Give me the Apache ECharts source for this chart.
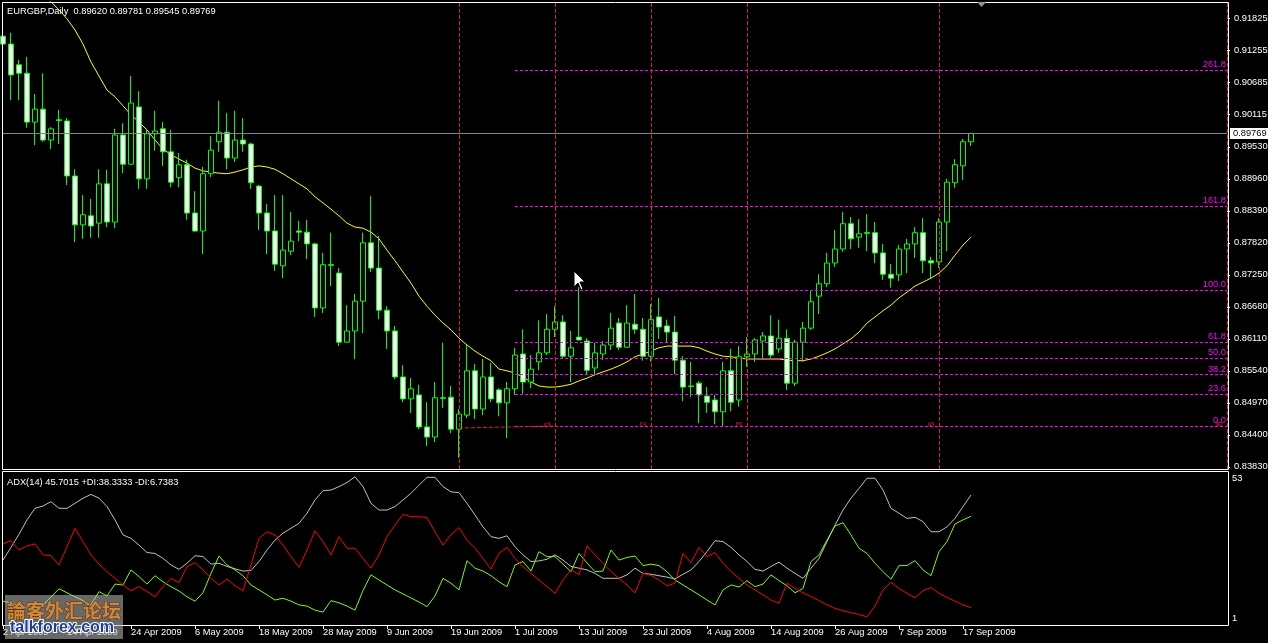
<!DOCTYPE html>
<html><head><meta charset="utf-8">
<script src="https://cdn.jsdelivr.net/npm/echarts@6/dist/echarts.min.js"></script>
<style>html,body{margin:0;padding:0;background:#000;overflow:hidden}#c{width:1268px;height:643px}</style>
</head><body><div id="c"></div>
<script>
const symbolName = 'EURGBP,Daily';
const dates = ['2 Apr 2009','3 Apr 2009','6 Apr 2009','7 Apr 2009','8 Apr 2009','9 Apr 2009','10 Apr 2009','13 Apr 2009','14 Apr 2009','15 Apr 2009','16 Apr 2009','17 Apr 2009','20 Apr 2009','21 Apr 2009','22 Apr 2009','23 Apr 2009','24 Apr 2009','27 Apr 2009','28 Apr 2009','29 Apr 2009','30 Apr 2009',
'1 May 2009','4 May 2009','5 May 2009','6 May 2009','7 May 2009','8 May 2009','11 May 2009','12 May 2009','13 May 2009','14 May 2009','15 May 2009','18 May 2009','19 May 2009','20 May 2009','21 May 2009','22 May 2009','25 May 2009','26 May 2009','27 May 2009','28 May 2009','29 May 2009',
'1 Jun 2009','2 Jun 2009','3 Jun 2009','4 Jun 2009','5 Jun 2009','8 Jun 2009','9 Jun 2009','10 Jun 2009','11 Jun 2009','12 Jun 2009','15 Jun 2009','16 Jun 2009','17 Jun 2009','18 Jun 2009','19 Jun 2009','22 Jun 2009','23 Jun 2009','24 Jun 2009','25 Jun 2009','26 Jun 2009','29 Jun 2009','30 Jun 2009',
'1 Jul 2009','2 Jul 2009','3 Jul 2009','6 Jul 2009','7 Jul 2009','8 Jul 2009','9 Jul 2009','10 Jul 2009','13 Jul 2009','14 Jul 2009','15 Jul 2009','16 Jul 2009','17 Jul 2009','20 Jul 2009','21 Jul 2009','22 Jul 2009','23 Jul 2009','24 Jul 2009','27 Jul 2009','28 Jul 2009','29 Jul 2009','30 Jul 2009','31 Jul 2009',
'3 Aug 2009','4 Aug 2009','5 Aug 2009','6 Aug 2009','7 Aug 2009','10 Aug 2009','11 Aug 2009','12 Aug 2009','13 Aug 2009','14 Aug 2009','17 Aug 2009','18 Aug 2009','19 Aug 2009','20 Aug 2009','21 Aug 2009','24 Aug 2009','25 Aug 2009','26 Aug 2009','27 Aug 2009','28 Aug 2009','31 Aug 2009',
'1 Sep 2009','2 Sep 2009','3 Sep 2009','4 Sep 2009','7 Sep 2009','8 Sep 2009','9 Sep 2009','10 Sep 2009','11 Sep 2009','14 Sep 2009','15 Sep 2009','16 Sep 2009','17 Sep 2009','18 Sep 2009'];
const emptySlots = 32;

const openP = [0.9150,0.9136,0.9099,0.9084,0.8997,0.9020,0.8965,0.9001,0.8999,0.8901,
0.8814,0.8830,0.8817,0.8887,0.8819,0.8974,0.8922,0.9024,0.8896,0.8976,
0.8985,0.8944,0.8898,0.8921,0.8835,0.8803,0.8905,0.8962,0.8979,0.8933,
0.8965,0.8958,0.8883,0.8835,0.8803,0.8741,0.8767,0.8803,0.8801,0.8780,
0.8666,0.8743,0.8728,0.8605,0.8625,0.8678,0.8782,0.8737,0.8662,0.8625,
0.8543,0.8504,0.8511,0.8454,0.8436,0.8506,0.8507,0.8450,0.8475,0.8554,
0.8486,0.8543,0.8520,0.8497,0.8522,0.8584,0.8534,0.8570,0.8586,0.8628,
0.8641,0.8580,0.8614,0.8607,0.8559,0.8584,0.8600,0.8639,0.8596,0.8637,
0.8628,0.8580,0.8650,0.8634,0.8623,0.8573,0.8527,0.8532,0.8509,0.8502,
0.8481,0.8554,0.8502,0.8579,0.8584,0.8607,0.8616,0.8593,0.8612,0.8532,
0.8605,0.8630,0.8687,0.8709,0.8746,0.8771,0.8816,0.8792,0.8800,0.8800,
0.8764,0.8726,0.8725,0.8771,0.8780,0.8800,0.8750,0.8748,0.8819,0.8889,
0.8919,0.89620];
const highP = [0.9170,0.9156,0.9108,0.9113,0.9047,0.9084,0.8988,0.9019,0.9004,0.8913,
0.8867,0.8860,0.8913,0.8912,0.8985,0.8995,0.9079,0.9052,0.8985,0.9017,
0.8997,0.8983,0.8942,0.8930,0.8874,0.8917,0.8972,0.9035,0.9013,0.9017,
0.9004,0.8960,0.8885,0.8851,0.8867,0.8867,0.8837,0.8821,0.8823,0.8782,
0.8764,0.8800,0.8737,0.8671,0.8691,0.8800,0.8865,0.8794,0.8669,0.8634,
0.8564,0.8541,0.8529,0.8498,0.8534,0.8604,0.8527,0.8486,0.8600,0.8566,
0.8575,0.8568,0.8523,0.8534,0.8595,0.8628,0.8582,0.8644,0.8655,0.8669,
0.8653,0.8625,0.8703,0.8612,0.8604,0.8607,0.8657,0.8648,0.8671,0.8691,
0.8648,0.8673,0.8684,0.8645,0.8652,0.8580,0.8570,0.8536,0.8525,0.8511,
0.8570,0.8593,0.8598,0.8614,0.8612,0.8623,0.8653,0.8645,0.8628,0.8609,
0.8641,0.8696,0.8726,0.8764,0.8805,0.8837,0.8828,0.8824,0.8833,0.8819,
0.8780,0.8744,0.8778,0.8789,0.8810,0.8826,0.8757,0.8826,0.8896,0.8931,
0.8967,0.89781];
const lowP = [0.9081,0.9036,0.9036,0.8987,0.8956,0.8962,0.8949,0.8958,0.8885,0.8783,
0.8789,0.8791,0.8791,0.8810,0.8808,0.8906,0.8921,0.8878,0.8878,0.8946,
0.8919,0.8881,0.8881,0.8823,0.8801,0.8762,0.8899,0.8944,0.8913,0.8926,
0.8944,0.8878,0.8805,0.8762,0.8732,0.8719,0.8760,0.8785,0.8753,0.8650,
0.8657,0.8705,0.8598,0.8604,0.8575,0.8621,0.8730,0.8646,0.8593,0.8539,
0.8498,0.8479,0.8450,0.8420,0.8427,0.8488,0.8443,0.8399,0.8470,0.8468,
0.8475,0.8498,0.8473,0.8434,0.8511,0.8513,0.8523,0.8555,0.8582,0.8614,
0.8575,0.8534,0.8608,0.8547,0.8547,0.8573,0.8591,0.8591,0.8595,0.8620,
0.8572,0.8570,0.8611,0.8604,0.8548,0.8500,0.8507,0.8461,0.8479,0.8459,
0.8454,0.8482,0.8490,0.8561,0.8570,0.8573,0.8577,0.8586,0.8520,0.8527,
0.8570,0.8627,0.8655,0.8703,0.8739,0.8766,0.8771,0.8773,0.8767,0.8746,
0.8716,0.8702,0.8714,0.8728,0.8755,0.8728,0.8719,0.8737,0.8767,0.8880,
0.8894,0.89545];
const closeP = [0.9136,0.9081,0.9084,0.8997,0.9020,0.8965,0.8985,0.9000,0.8901,0.8814,
0.8832,0.8812,0.8887,0.8819,0.8974,0.8922,0.9031,0.8896,0.8976,0.8981,
0.8944,0.8890,0.8921,0.8835,0.8803,0.8905,0.8947,0.8979,0.8933,0.8965,
0.8958,0.8889,0.8835,0.8803,0.8744,0.8769,0.8785,0.8801,0.8780,0.8666,
0.8743,0.8742,0.8605,0.8625,0.8678,0.8782,0.8737,0.8662,0.8625,0.8543,
0.8504,0.8522,0.8454,0.8436,0.8506,0.8505,0.8450,0.8477,0.8554,0.8486,
0.8543,0.8504,0.8497,0.8522,0.8582,0.8534,0.8557,0.8586,0.8628,0.8641,
0.8580,0.8595,0.8609,0.8555,0.8586,0.8600,0.8630,0.8596,0.8639,0.8628,
0.8580,0.8645,0.8632,0.8623,0.8573,0.8525,0.8526,0.8511,0.8498,0.8481,
0.8554,0.8498,0.8579,0.8584,0.8609,0.8616,0.8582,0.8612,0.8532,0.8605,
0.8630,0.8677,0.8709,0.8746,0.8771,0.8816,0.8789,0.8798,0.8799,0.8764,
0.8726,0.8719,0.8771,0.8780,0.8800,0.8750,0.8746,0.8819,0.8890,0.8921,
0.8962,0.89769];
const maLine = [null,null,null,null,null,
0.9223,0.9211,0.9197,0.9181,0.9161,
0.9136,0.9104,0.9079,0.9054,0.9042,0.9026,0.9010,0.8997,0.8983,0.8965,
0.8949,0.8939,0.8931,0.8924,0.8915,0.8910,0.8908,0.8906,0.8905,0.8908,
0.8912,0.8917,0.8919,0.8917,0.8913,0.8905,0.8896,0.8887,0.8878,0.8864,
0.8853,0.8842,0.8830,0.8817,0.8810,0.8808,0.8801,0.8789,0.8769,0.8750,
0.8730,0.8710,0.8687,0.8669,0.8653,0.8639,0.8627,0.8612,0.8600,0.8589,
0.8580,0.8572,0.8557,0.8554,0.8550,0.8543,0.8534,0.8527,0.8525,0.8525,
0.8527,0.8530,0.8536,0.8541,0.8547,0.8552,0.8557,0.8563,0.8570,0.8579,
0.8584,0.8589,0.8595,0.8598,0.8598,0.8598,0.8598,0.8595,0.8589,0.8584,
0.8580,0.8579,0.8577,0.8575,0.8575,0.8575,0.8575,0.8575,0.8573,0.8572,
0.8572,0.8575,0.8580,0.8586,0.8593,0.8602,0.8611,0.8623,0.8639,0.8650,
0.8661,0.8671,0.8684,0.8694,0.8705,0.8712,0.8719,0.8728,0.8741,0.8760,
0.8778,0.8792];
const adxMain = [23.2,27.6,32.1,37.1,41.1,41.9,43.4,41.1,41.1,42.8,
44.6,45.9,44.6,41.7,37.1,31.9,30.7,28.4,25.8,25.5,
23.8,21.5,20.0,22.1,24.7,24.4,21.8,22.1,21.0,20.2,
19.4,19.6,22.7,26.7,30.1,32.5,34.2,35.9,39.4,44.0,
47.2,47.4,48.6,50.0,52.0,48.6,42.8,40.5,40.5,41.7,
44.0,46.3,49.1,51.8,51.8,48.6,46.8,46.5,42.8,38.8,
34.7,31.3,30.7,31.6,27.8,25.0,22.7,22.9,23.5,25.0,
23.2,21.0,20.4,19.8,18.6,16.9,16.9,16.9,18.1,20.4,
18.6,18.3,17.8,17.3,16.7,18.3,19.8,22.7,26.1,29.9,
29.6,27.6,25.0,22.7,20.0,19.4,21.0,22.5,20.4,18.6,
16.9,20.4,23.8,29.6,35.3,40.5,44.6,48.0,51.5,51.5,
47.4,41.1,39.4,37.6,38.0,36.5,33.0,33.0,34.7,37.6,
41.7,45.7015];
const plusDI = [9.0,8.4,7.3,6.7,5.2,7.7,10.4,13.3,11.9,10.5,
9.2,7.7,12.3,10.8,14.9,14.6,19.8,17.5,14.9,17.8,
15.7,14.0,12.5,10.5,9.0,11.9,18.6,24.6,21.5,19.8,
17.8,14.6,12.9,11.2,9.4,10.0,9.0,7.7,7.3,5.9,
5.2,9.2,8.4,7.3,5.9,12.7,18.1,16.3,14.6,12.9,
11.5,10.1,8.7,7.1,10.8,16.9,15.2,12.9,23.0,20.4,
19.4,17.8,15.7,14.0,21.5,22.7,19.4,26.1,24.4,24.4,
21.8,19.2,25.5,22.2,19.2,19.4,26.7,23.2,24.1,24.6,
21.3,21.8,21.3,19.2,16.3,14.6,12.9,11.2,9.4,7.7,
12.9,14.6,13.9,16.1,14.0,14.9,18.1,16.1,14.3,11.9,
13.4,22.7,25.0,30.1,35.0,36.1,31.9,27.3,25.5,22.1,
19.2,16.6,21.3,21.3,23.0,19.8,17.8,26.1,29.6,35.7,
37.1,38.3333];
const minusDI = [28.8,29.9,26.7,28.1,28.8,25.0,24.7,21.5,27.8,34.2,
29.6,25.0,21.8,19.2,16.9,14.6,12.6,14.0,12.3,10.5,
14.0,16.9,15.4,20.9,22.3,19.8,16.9,14.6,16.6,14.3,
12.6,21.5,30.7,33.0,31.9,28.4,24.4,20.7,26.7,33.3,
29.6,25.0,31.3,27.3,27.3,23.8,20.4,25.0,31.3,35.3,
39.0,38.2,38.2,37.9,33.0,28.4,31.9,34.4,30.1,27.3,
23.8,20.1,25.5,27.6,23.8,20.9,18.6,16.3,14.0,11.7,
16.3,19.8,18.1,28.1,25.0,22.1,19.2,16.9,14.6,11.9,
18.6,17.9,16.3,14.3,15.2,25.5,22.3,27.6,24.4,25.8,
22.1,19.2,16.9,14.6,12.9,11.2,9.4,8.3,15.2,13.4,
11.9,10.5,9.2,7.7,6.5,5.7,5.0,4.4,3.6,7.3,
12.9,15.5,13.4,11.7,10.2,12.6,13.7,11.7,10.3,9.0,
7.7,6.7383];
const priceTicks = [0.83830,0.84400,0.84970,0.85540,0.86110,0.86680,0.87250,0.87820,0.88390,0.88960,0.89530,0.90115,0.90685,0.91255,0.91825];
const adxTicks = [53, 1];
const fibLabels = ['0.0','23.6','38.2','50.0','61.8','100.0','161.8','261.8'];
const fibPrices = [0.84551,0.85121,0.85470,0.85763,0.86048,0.86974,0.88471,0.90895];
const fibStartIdx = 64;
const fibTimeIdx = [57,69,81,93,117,153];
const fibTimeLabels = ['1','1','2','3','5','8'];
const fibTimeLabelPrice = 0.84592;
const fibBase = [[57,0.84521],[69,0.84557]];
const bidPrice = 0.89769;

const FONT = '"Liberation Sans", Arial, sans-serif';
const FS = 9.3;
const n = dates.length;
const cats = dates.concat(Array.from({length: emptySlots}, (_, i) => '~' + i));
const showIdx = (i) => i % 8 === 0 && i < n;
const lastI = n - 1;

const candles = dates.map((d, i) => [openP[i], closeP[i], lowP[i], highP[i]]);

const markData = [];
fibPrices.forEach((p, i) => {
  markData.push([
    {coord: [cats[fibStartIdx], p], lineStyle: {color: '#ff00ff', type: [3, 2], width: 1},
     label: {show: true, formatter: fibLabels[i], position: 'insideEndTop', color: '#ff00ff', fontSize: FS, fontFamily: FONT, distance: [1, 1]}},
    {coord: [cats[cats.length - 1], p]}
  ]);
});
fibTimeIdx.forEach((k) => {
  markData.push({xAxis: cats[k], lineStyle: {color: '#e2231a', type: [4, 2], width: 1}, label: {show: false}});
});
markData.push([
  {coord: [cats[fibBase[0][0]], fibBase[0][1]], lineStyle: {color: '#e2231a', type: [4, 2], width: 1}, label: {show: false}},
  {coord: [cats[fibBase[1][0]], fibBase[1][1]]}
]);
markData.push([
  {coord: [cats[0], bidPrice], lineStyle: {color: '#778899', type: 'solid', width: 1},
   label: {show: true, position: 'end', formatter: bidPrice.toFixed(5), backgroundColor: '#ffffff', color: '#000000',
     fontSize: FS, fontFamily: FONT, padding: [1, 2, 1, 3], distance: 3}},
  {coord: [cats[cats.length - 1], bidPrice]}
]);

const chart = echarts.init(document.getElementById('c'), null, {renderer: 'canvas'});
chart.setOption({
  animation: false,
  backgroundColor: '#000000',
  grid: [
    {left: 3, right: 41, top: 2, height: 467, outerBoundsMode: 'none', containLabel: false},
    {left: 3, right: 41, top: 472, height: 153, outerBoundsMode: 'none', containLabel: false}
  ],
  xAxis: [
    {type: 'category', gridIndex: 0, data: cats, boundaryGap: false,
     axisLine: {show: false}, axisTick: {show: false}, axisLabel: {show: false}, splitLine: {show: false}},
    {type: 'category', gridIndex: 1, data: cats, boundaryGap: false,
     axisLine: {show: false},
     axisTick: {show: true, interval: (i) => showIdx(i), length: 4, lineStyle: {color: '#ffffff'}},
     axisLabel: {show: true, interval: (i) => showIdx(i), color: '#ffffff', fontSize: FS, fontFamily: FONT, align: 'left', margin: 3},
     splitLine: {show: false}}
  ],
  yAxis: [
    {type: 'value', gridIndex: 0, position: 'right', min: 0.83791, max: 0.92109,
     splitLine: {show: false}, axisLine: {show: false},
     axisTick: {show: true, customValues: priceTicks, length: 3, lineStyle: {color: '#ffffff'}},
     axisLabel: {show: true, customValues: priceTicks, formatter: (v) => Number(v).toFixed(5), color: '#ffffff', fontSize: FS, fontFamily: FONT, margin: 7}},
    {type: 'value', gridIndex: 1, position: 'right', min: 0.76, max: 53.65,
     splitLine: {show: false}, axisLine: {show: false},
     axisTick: {show: false},
     axisLabel: {show: true, customValues: adxTicks, color: '#ffffff', fontSize: FS, fontFamily: FONT, margin: 5,
       formatter: (v) => (v === adxTicks[0] ? '{t|' + v + '}' : '{b|' + v + '}'),
       rich: {t: {padding: [9, 0, 0, 0], color: '#fff', fontSize: FS, fontFamily: FONT}, b: {padding: [0, 0, 11, 0], color: '#fff', fontSize: FS, fontFamily: FONT}}}}
  ],
  series: [
    {type: 'line', name: 'MA', xAxisIndex: 0, yAxisIndex: 0, data: maLine, symbol: 'none', z: 2,
     lineStyle: {color: '#ffff00', width: 1}, clip: true, silent: true,
     markLine: {silent: true, symbol: ['none', 'none'], animation: false, data: markData}},
    {type: 'scatter', xAxisIndex: 0, yAxisIndex: 0, symbolSize: 0, z: 2, silent: true,
     data: fibTimeIdx.map((k) => [cats[k], fibTimeLabelPrice]),
     label: {show: true, position: 'inside', rotate: 90, offset: [0, -7.5], color: '#ff1a1a', fontSize: 9, fontFamily: FONT,
       formatter: (p) => fibTimeLabels[p.dataIndex]}},
    {type: 'candlestick', name: 'EURGBP', xAxisIndex: 0, yAxisIndex: 0, data: candles, barWidth: 5, z: 3,
     itemStyle: {color: '#000000', color0: '#ffffff', borderColor: '#00ff00', borderColor0: '#00ff00', borderWidth: 1}},
    {type: 'line', name: 'ADX', xAxisIndex: 1, yAxisIndex: 1, data: adxMain, symbol: 'none', lineStyle: {color: '#c0c0c0', width: 1}},
    {type: 'line', name: '+DI', xAxisIndex: 1, yAxisIndex: 1, data: plusDI, symbol: 'none', lineStyle: {color: '#7cfc00', width: 1}},
    {type: 'line', name: '-DI', xAxisIndex: 1, yAxisIndex: 1, data: minusDI, symbol: 'none', lineStyle: {color: '#ff0000', width: 1}}
  ],
  graphic: [
    {type: 'rect', z: 100, silent: true, shape: {x: 2.5, y: 2.5, width: 1226, height: 467}, style: {fill: null, stroke: '#ffffff', lineWidth: 1}},
    {type: 'rect', z: 100, silent: true, shape: {x: 2.5, y: 471.5, width: 1226, height: 154}, style: {fill: null, stroke: '#ffffff', lineWidth: 1}},
    {type: 'text', z: 100, silent: true, x: 7, y: 11, style: {
      text: symbolName + '  ' + [openP[lastI], highP[lastI], lowP[lastI], closeP[lastI]].map((v) => v.toFixed(5)).join(' '),
      fill: '#ffffff', font: FS + 'px ' + FONT, verticalAlign: 'middle'}},
    {type: 'text', z: 100, silent: true, x: 7, y: 482, style: {
      text: 'ADX(14) ' + adxMain[lastI].toFixed(4) + ' +DI:' + plusDI[lastI].toFixed(4) + ' -DI:' + minusDI[lastI].toFixed(4),
      fill: '#ffffff', font: FS + 'px ' + FONT, verticalAlign: 'middle'}},
    {type: 'polygon', z: 100, silent: true, shape: {points: [[977, 2], [986, 2], [981.5, 7]]}, style: {fill: '#8a99a6'}},
    {type: 'polygon', z: 100, silent: true, shape: {points: [[574, 271], [574, 287], [578, 283], [581, 290], [583, 289], [580, 282], [585, 282]]}, style: {fill: '#ffffff', stroke: '#000000', lineWidth: 1}},
    {type: 'rect', z: 110, silent: true, shape: {x: 5, y: 595, width: 118, height: 44}, style: {fill: 'rgba(190,190,190,0.55)'}},
    {type: 'text', z: 111, silent: true, x: 7, y: 611, style: {text: '論客外汇论坛', font: 'bold 19px "Noto Sans CJK SC"', fill: '#c98a3a', stroke: '#6a2a12', lineWidth: 1, verticalAlign: 'middle'}},
    {type: 'text', z: 111, silent: true, x: 10, y: 628, style: {text: 'talkforex.com', font: 'bold 16px "Liberation Sans"', fill: '#1d3f94', stroke: '#ffffff', lineWidth: 2, verticalAlign: 'middle'}}
  ]
});
</script>
</body></html>
